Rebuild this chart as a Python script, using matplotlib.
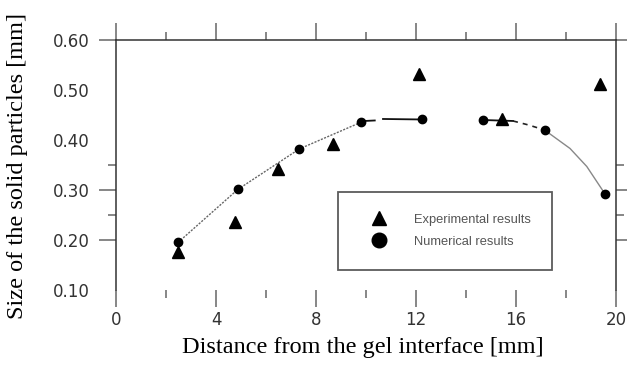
import matplotlib
matplotlib.use('Agg')
import matplotlib.pyplot as plt
from matplotlib.lines import Line2D

# experimental points (triangles)
exp_x = [2.48, 4.74, 6.48, 8.68, 12.11, 15.45, 19.35]
exp_y = [0.175, 0.235, 0.341, 0.392, 0.531, 0.442, 0.511]

# numerical points (circles)
num_x = [2.48, 4.87, 7.33, 9.78, 12.24, 14.66, 17.14, 19.56]
num_y = [0.195, 0.301, 0.382, 0.435, 0.441, 0.440, 0.420, 0.292]

# fitted curve pieces
left_x = [2.48, 4.87, 7.33, 9.78]
left_y = [0.195, 0.301, 0.382, 0.435]
dash_x = [9.95, 10.35]
dash_y = [0.438, 0.439]
mid1_x = [10.68, 12.24]
mid1_y = [0.442, 0.441]
mid2_x = [14.66, 15.88]
mid2_y = [0.440, 0.438]
fall_x = [15.88, 16.5, 17.14]
fall_y = [0.438, 0.430, 0.420]
right_x = [17.14, 18.16, 18.83, 19.56]
right_y = [0.420, 0.383, 0.347, 0.292]

x_major = [0, 4, 8, 12, 16, 20]
x_minor = [2, 6, 10, 14, 18]
y_major = [0.10, 0.20, 0.30, 0.40, 0.50, 0.60]
y_labels = ['0.10', '0.20', '0.30', '0.40', '0.50', '0.60']
y_minor = [0.25, 0.35]
y_no_tick = [0.10, 0.40, 0.50]

fig = plt.figure(figsize=(6.27, 3.65), dpi=100)
ax = fig.add_axes([0.185, 0.2055, 0.7975, 0.685])

ax.plot(left_x, left_y, ls=(0, (1.5, 1)), color='#666666', lw=1.0)
ax.plot(dash_x, dash_y, '-', color='#111111', lw=1.3)
ax.plot(mid1_x, mid1_y, '-', color='#111111', lw=1.3)
ax.plot(mid2_x, mid2_y, '-', color='#111111', lw=1.3)
ax.plot(fall_x, fall_y, ls=(0, (3, 3)), color='#222222', lw=1.2)
ax.plot(right_x, right_y, '-', color='#888888', lw=1.0)

ax.plot(exp_x, exp_y, '^', color='black', ms=8.5, ls='none')
ax.plot(num_x, num_y, 'o', color='black', ms=6, ls='none')

ax.set_xlim(0, 20)
ax.set_ylim(0.10, 0.60)
ax.set_xticks(x_major)
ax.set_xticks(x_minor, minor=True)
ax.set_yticks(y_major, y_labels)
ax.set_yticks(y_minor, minor=True)

ax.spines['bottom'].set_visible(False)
for s in ['top', 'left', 'right']:
    ax.spines[s].set_color('#333333')
    ax.spines[s].set_linewidth(1.1)

ax.tick_params(which='both', direction='out', top=True, bottom=True,
               left=True, right=True, color='#666666', width=1.1)
ax.tick_params(which='major', length=12.2)
ax.tick_params(which='minor', length=6)
ax.tick_params(axis='y', which='major', labelsize=12, pad=7, labelcolor='#333333')
ax.tick_params(axis='x', which='major', labelsize=12, pad=3, labelcolor='#333333')
for lab in ax.get_xticklabels() + ax.get_yticklabels():
    lab.set_family('DejaVu Sans')

for t in ax.yaxis.get_major_ticks():
    if round(t.get_loc(), 2) in y_no_tick:
        t.tick1line.set_visible(False)
        t.tick2line.set_visible(False)

fig.text(363 / 627, 1 - 347 / 365, 'Distance from the gel interface [mm]',
         family='Liberation Serif', fontsize=17.5, ha='center', va='center')
fig.text(18 / 627, 1 - 166 / 365, 'Size of the solid particles [mm]',
         family='Liberation Serif', fontsize=17.5, ha='center', va='center',
         rotation=90)

handles = [Line2D([], [], marker='^', color='black', ls='none', ms=10.5),
           Line2D([], [], marker='o', color='black', ls='none', ms=10.5)]
leg = ax.legend(handles, ['Experimental results', 'Numerical results'],
                loc='upper left', bbox_to_anchor=(0.444, 0.392),
                fontsize=9.3, frameon=True, fancybox=False,
                borderpad=1.7, handlelength=2.9, handletextpad=1.25,
                labelspacing=0.75, borderaxespad=0)
leg.get_frame().set_edgecolor('#333333')
leg.get_frame().set_linewidth(1.3)
for txt in leg.get_texts():
    txt.set_color('#555555')
    txt.set_family('Liberation Sans')

fig.savefig('out.png', dpi=100)
